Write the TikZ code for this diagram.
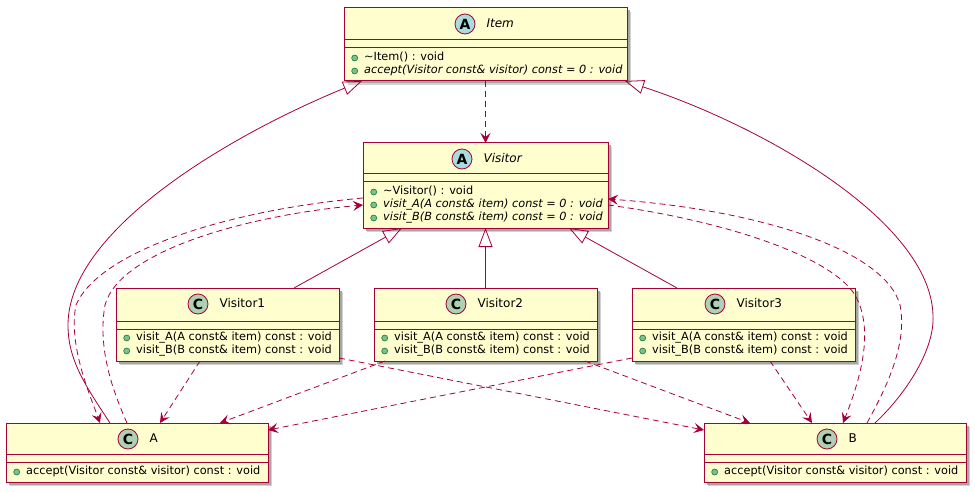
\documentclass[tikz,border=0pt]{standalone}
\usepackage{fontspec}
\setmainfont{DejaVu Sans}
\usetikzlibrary{arrows.meta,positioning,shadows}
\definecolor{umlred}{HTML}{A80036}
\definecolor{umlfill}{HTML}{FEFECE}
\definecolor{absblue}{HTML}{A9DCDF}
\definecolor{clsgreen}{HTML}{ADD1B2}
\definecolor{dotgreen}{HTML}{84BE84}
\definecolor{dotline}{HTML}{038048}
\tikzset{
  cls/.style={draw=umlred, fill=umlfill, line width=1pt, anchor=north west, inner sep=0pt, outer sep=0pt,
    drop shadow={shadow xshift=4pt, shadow yshift=-4pt, fill=black!18, opacity=1},
    drop shadow={shadow xshift=2.5pt, shadow yshift=-2.5pt, fill=black!35, opacity=1}},
  icon/.style={circle, draw=umlred, line width=.8pt, minimum size=20pt, inner sep=0pt,
    font=\fontsize{14}{14}\selectfont\bfseries},
  absicon/.style={icon, fill=absblue},
  clsicon/.style={icon, fill=clsgreen},
  title/.style={inner sep=0pt, text height=9pt, text depth=2.5pt, font=\fontsize{12}{14}\selectfont},
  abstitle/.style={title, font=\fontsize{12}{14}\selectfont\itshape},
  member/.style={anchor=west, inner sep=0pt, text height=8pt, text depth=2.5pt,
    font=\fontsize{11.3}{13}\selectfont, label={[memdot, label distance=6pt]left:}},
  absmember/.style={member, font=\fontsize{11.3}{13}\selectfont\itshape},
  memdot/.style={circle, draw=dotline, fill=dotgreen, minimum size=6pt, inner sep=0pt, line width=.6pt},
  edge/.style={umlred, line width=.8pt},
  dep/.style={edge, dash pattern=on 6pt off 4pt, -{Stealth[length=10pt, width=10pt, inset=4pt]}},
  gen/.style={edge, -{Triangle[open, length=19pt, width=14pt]}},
}
\begin{document}
\begin{tikzpicture}[x=1pt, y=-1pt]
  \useasboundingbox (0,0) rectangle (975,492);

  \node[cls, minimum width=283pt, minimum height=73pt] (item) at (344,8) {};
  \node[absicon] (item-i) at (465,24) {A};
  \node[abstitle, right=11pt of item-i] (item-t) {Item};
  \node[member] (item-m1) at (364,58) {\textasciitilde Item() : void};
  \node[absmember] (item-m2) at (364,71) {accept(Visitor const\& visitor) const = 0 : void};

  \node[cls, minimum width=245pt, minimum height=85pt] (visitor) at (363,143) {};
  \node[absicon] (visitor-i) at (462,159) {A};
  \node[abstitle, right=11pt of visitor-i] (visitor-t) {Visitor};
  \node[member] (visitor-m1) at (383,192) {\textasciitilde Visitor() : void};
  \node[absmember] (visitor-m2) at (383,205) {visit\_A(A const\& item) const = 0 : void};
  \node[absmember] (visitor-m3) at (383,218) {visit\_B(B const\& item) const = 0 : void};

  \node[cls, minimum width=223pt, minimum height=73pt] (v1) at (116,288) {};
  \node[clsicon] (v1-i) at (198,304) {C};
  \node[title, right=11pt of v1-i] (v1-t) {Visitor1};
  \node[member] (v1-m1) at (136,338) {visit\_A(A const\& item) const : void};
  \node[member] (v1-m2) at (136,351) {visit\_B(B const\& item) const : void};

  \node[cls, minimum width=223pt, minimum height=73pt] (v2) at (374,288) {};
  \node[clsicon] (v2-i) at (456,304) {C};
  \node[title, right=11pt of v2-i] (v2-t) {Visitor2};
  \node[member] (v2-m1) at (394,338) {visit\_A(A const\& item) const : void};
  \node[member] (v2-m2) at (394,351) {visit\_B(B const\& item) const : void};

  \node[cls, minimum width=223pt, minimum height=73pt] (v3) at (632,288) {};
  \node[clsicon] (v3-i) at (715,304) {C};
  \node[title, right=11pt of v3-i] (v3-t) {Visitor3};
  \node[member] (v3-m1) at (652,338) {visit\_A(A const\& item) const : void};
  \node[member] (v3-m2) at (652,351) {visit\_B(B const\& item) const : void};

  \node[cls, minimum width=262pt, minimum height=59pt] (a) at (6,423) {};
  \node[clsicon] (a-i) at (128,439) {C};
  \node[title, right=11pt of a-i] (a-t) {A};
  \node[member] (a-m1) at (26,472) {accept(Visitor const\& visitor) const : void};

  \node[cls, minimum width=262pt, minimum height=59pt] (b) at (704,423) {};
  \node[clsicon] (b-i) at (827,439) {C};
  \node[title, right=11pt of b-i] (b-t) {B};
  \node[member] (b-m1) at (724,472) {accept(Visitor const\& visitor) const : void};

  \foreach \n/\h in {item/32, visitor/31, v1/33, v2/33, v3/33, a/31, b/31}{
    \draw[umlred, line width=1pt] ([yshift=-\h*1pt]\n.north west) -- ([yshift=-\h*1pt]\n.north east)
      ([yshift=-\h*1pt-8pt]\n.north west) -- ([yshift=-\h*1pt-8pt]\n.north east);
  }

  \draw[dep] (item.south) -- (visitor.north);
  \draw[gen] ([xshift=66.5pt]v1.north) -- ([xshift=-83.5pt]visitor.south);
  \draw[gen] (v2.north) -- (visitor.south);
  \draw[gen] ([xshift=-66.5pt]v3.north) -- ([xshift=83.5pt]visitor.south);
  \draw[gen] ([xshift=-27pt]a.north) .. controls (85,385) and (68,360) .. (68,325)
    .. controls (68,230) and (230,135) .. ([xshift=18pt]item.south west);
  \draw[gen] ([xshift=40pt]b.north) .. controls (905,395) and (935,350) .. (933,315)
    .. controls (930,220) and (760,125) .. ([xshift=-2pt]item.south east);

  \draw[dep] ([yshift=-12.5pt]visitor.west) .. controls (230,210) and (100,250) .. (76,305)
    .. controls (68,345) and (90,395) .. ([xshift=-37pt]a.north);
  \draw[dep] ([xshift=-10pt]a.north) .. controls (110,385) and (98,345) .. (105,305)
    .. controls (120,250) and (250,215) .. ([yshift=-19.5pt]visitor.west);
  \draw[dep] ([xshift=32pt]b.north) .. controls (885,390) and (908,345) .. (900,305)
    .. controls (885,250) and (760,210) .. ([yshift=-13.5pt]visitor.east);
  \draw[dep] ([yshift=-19.5pt]visitor.east) .. controls (720,220) and (830,255) .. (855,295)
    .. controls (875,330) and (860,380) .. ([xshift=8pt]b.north);

  \draw[dep] ([xshift=-27.5pt]v1.south) -- ([xshift=23pt]a.north);
  \draw[dep] ([yshift=3pt]v1.south east) -- ([yshift=-7pt]b.north west);
  \draw[dep] ([xshift=11pt]v2.south west) -- ([xshift=-48pt]a.north east);
  \draw[dep] ([xshift=-12pt]v2.south east) -- ([xshift=46pt]b.north west);
  \draw[dep] ([yshift=3pt]v3.south west) -- ([yshift=-7pt]a.north east);
  \draw[dep] ([xshift=26.5pt]v3.south) -- ([xshift=-23pt]b.north);
\end{tikzpicture}
\end{document}
